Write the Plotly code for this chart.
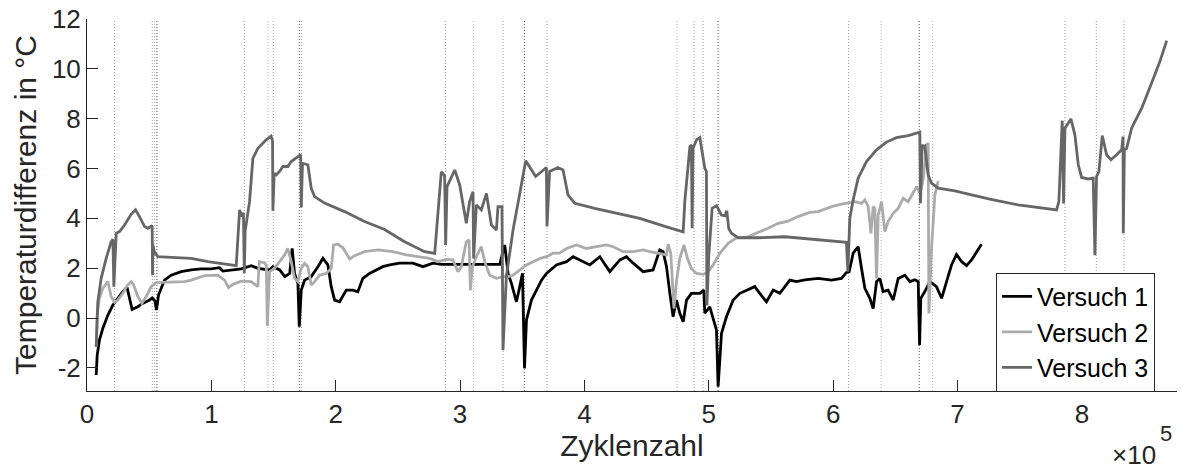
import plotly.graph_objects as go

# x values in units of 1e5 cycles
x1 = [0.074,0.082,0.10,0.127,0.168,0.208,0.248,0.288,0.322,0.342,0.363,0.382,0.409,0.435,0.476,0.503,0.524,0.545,0.559,0.575,0.597,0.623,0.677,0.757,0.838,0.918,0.999,1.066,1.093,1.16,1.24,1.321,1.374,1.468,1.495,1.55,1.59,1.63,1.65,1.669,1.696,1.707,1.723,1.75,1.803,1.857,1.897,1.937,1.964,1.991,2.031,2.085,2.138,2.178,2.218,2.272,2.326,2.379,2.434,2.514,2.621,2.702,2.782,2.85,3.0,3.15,3.319,3.359,3.386,3.413,3.453,3.48,3.502,3.518,3.534,3.574,3.614,3.655,3.695,3.775,3.856,3.909,3.963,4.043,4.124,4.204,4.285,4.338,4.392,4.472,4.552,4.606,4.633,4.66,4.687,4.713,4.74,4.767,4.794,4.821,4.861,4.928,4.96,4.968,5.008,5.035,5.062,5.075,5.102,5.142,5.196,5.25,5.303,5.37,5.41,5.464,5.518,5.571,5.652,5.705,5.772,5.88,5.987,6.067,6.107,6.129,6.161,6.201,6.228,6.255,6.295,6.322,6.349,6.375,6.402,6.442,6.483,6.523,6.576,6.617,6.657,6.684,6.695,6.705,6.737,6.778,6.831,6.872,6.912,6.952,6.992,7.033,7.073,7.113,7.193]
y1 = [-2.29,-1.49,-0.89,-0.42,0.12,0.52,0.79,1.06,1.23,0.79,0.34,0.39,0.45,0.55,0.65,0.72,0.81,0.7,0.32,0.92,1.19,1.52,1.72,1.86,1.93,1.97,1.97,2.02,1.88,1.91,1.97,2.1,1.99,1.93,2.06,1.93,1.66,1.79,2.79,1.79,1.39,-0.35,1.12,1.52,1.66,2.06,2.4,2.13,1.26,0.72,0.65,1.12,1.12,1.05,1.59,1.79,1.93,2.06,2.13,2.2,2.2,2.06,2.2,2.15,2.15,2.15,2.15,2.93,1.79,1.39,0.65,1.26,1.79,-2.02,-0.08,0.72,1.12,1.52,1.79,2.13,2.26,2.46,2.33,2.13,2.46,1.86,2.33,2.46,2.2,1.86,1.93,2.73,2.66,2.06,0.99,0.05,0.72,0.19,-0.15,0.72,0.99,0.99,1.12,0.19,0.45,-0.08,-0.49,-2.76,-0.62,0.05,0.72,0.99,1.12,1.26,0.99,0.65,1.12,0.99,1.52,1.46,1.53,1.59,1.52,1.59,1.83,1.86,2.6,2.86,2.0,1.19,0.79,0.38,1.46,1.59,1.06,1.12,0.72,1.59,1.72,1.46,1.53,1.46,-1.09,0.79,1.06,1.46,1.26,0.79,1.46,2.13,2.55,2.26,2.1,2.33,2.96]

x2 = [0.074,0.082,0.10,0.127,0.168,0.194,0.221,0.248,0.288,0.323,0.355,0.376,0.409,0.441,0.476,0.516,0.556,0.65,0.784,0.838,0.945,1.052,1.106,1.138,1.173,1.24,1.321,1.374,1.385,1.428,1.442,1.45,1.468,1.509,1.548,1.589,1.615,1.642,1.669,1.696,1.723,1.75,1.776,1.803,1.83,1.87,1.924,1.964,1.983,2.018,2.058,2.112,2.152,2.232,2.34,2.46,2.568,2.675,2.755,2.822,2.889,2.943,2.983,3.01,3.05,3.072,3.083,3.099,3.131,3.171,3.198,3.238,3.292,3.346,3.386,3.426,3.48,3.534,3.587,3.641,3.695,3.748,3.80,3.856,3.936,4.016,4.097,4.177,4.231,4.311,4.392,4.472,4.526,4.606,4.66,4.673,4.694,4.72,4.74,4.767,4.801,4.828,4.86,4.901,4.955,4.995,5.035,5.089,5.156,5.223,5.317,5.397,5.477,5.558,5.638,5.718,5.812,5.88,5.987,6.067,6.12,6.174,6.228,6.255,6.282,6.304,6.322,6.335,6.349,6.362,6.389,6.416,6.442,6.483,6.523,6.563,6.603,6.644,6.671,6.70,6.725,6.751,6.764,6.77,6.791,6.818,6.845]
y2 = [-1.16,0.12,0.79,1.19,1.46,0.86,0.63,0.72,0.99,1.3,1.46,1.32,0.86,0.59,0.86,1.26,1.42,1.43,1.46,1.52,1.7,1.72,1.52,1.22,1.35,1.48,1.46,1.26,2.26,2.22,2.1,-0.32,1.86,2.0,2.26,2.53,2.79,2.26,1.59,1.46,2.0,2.19,2.06,1.32,1.46,1.72,1.79,1.99,2.93,2.96,2.82,2.37,2.5,2.66,2.73,2.66,2.53,2.46,2.39,2.26,2.35,2.33,1.86,2.06,3.06,3.13,1.12,2.06,2.46,2.86,2.26,1.72,1.59,1.66,1.66,1.72,1.93,2.13,2.26,2.39,2.46,2.6,2.6,2.79,2.93,2.79,2.86,2.93,2.86,2.66,2.66,2.73,2.66,2.6,2.53,2.96,2.6,0.38,1.46,2.4,2.93,2.4,1.99,1.79,1.75,1.86,2.13,2.6,3.0,3.22,3.26,3.44,3.6,3.8,3.89,4.07,4.24,4.27,4.47,4.57,4.61,4.67,4.6,4.74,4.47,3.4,4.47,4.4,1.59,4.13,4.67,3.47,3.87,4.2,4.4,4.8,4.67,5.07,5.27,5.0,5.6,6.95,7.02,0.18,2.8,4.94,5.5]

x3 = [0.074,0.087,0.114,0.154,0.194,0.208,0.216,0.235,0.261,0.302,0.355,0.39,0.422,0.463,0.489,0.524,0.527,0.53,0.543,0.57,0.677,0.838,0.972,1.106,1.2,1.227,1.246,1.258,1.265,1.272,1.307,1.334,1.374,1.441,1.48,1.492,1.495,1.505,1.522,1.548,1.575,1.615,1.642,1.696,1.718,1.723,1.733,1.776,1.803,1.83,1.91,2.071,2.232,2.393,2.554,2.715,2.796,2.849,2.876,2.884,2.895,2.957,2.997,3.05,3.077,3.104,3.109,3.131,3.171,3.212,3.252,3.292,3.305,3.337,3.345,3.372,3.426,3.48,3.528,3.608,3.694,3.699,3.72,3.787,3.828,3.868,3.922,4.083,4.27,4.445,4.66,4.794,4.807,4.834,4.848,4.86,4.866,4.874,4.901,4.928,4.968,4.981,4.985,5.0,5.027,5.062,5.102,5.13,5.145,5.16,5.182,5.236,5.397,5.611,5.812,6.107,6.118,6.128,6.134,6.161,6.201,6.268,6.349,6.429,6.509,6.603,6.697,6.702,6.716,6.729,6.737,6.764,6.791,6.845,6.979,7.113,7.26,7.488,7.797,7.815,7.842,7.853,7.864,7.912,7.944,7.971,7.998,8.051,8.091,8.105,8.118,8.137,8.164,8.199,8.234,8.279,8.32,8.331,8.333,8.342,8.36,8.4,8.481,8.561,8.628,8.682]
y3 = [-1.16,0.65,1.59,2.39,3.06,3.16,1.26,3.4,3.47,3.73,4.16,4.34,4.07,3.67,3.6,3.71,1.72,2.93,2.63,2.46,2.43,2.39,2.26,2.15,2.1,4.34,4.07,4.22,1.8,3.5,4.67,6.41,6.81,7.15,7.3,7.1,4.3,5.8,5.74,5.88,6.08,6.08,6.28,6.48,6.55,4.44,6.21,6.15,5.21,4.87,4.61,4.27,3.87,3.55,3.06,2.66,2.59,5.87,5.7,2.93,5.27,5.94,5.34,3.8,4.67,5.07,2.39,4.54,4.34,5.0,3.73,3.53,4.47,4.47,-1.29,1.66,3.53,5.0,6.31,5.68,6.04,3.67,5.88,6.04,5.94,4.94,4.6,4.4,4.2,4.0,3.66,3.46,4.67,6.15,6.88,6.95,3.6,6.81,7.15,7.24,6.01,5.88,0.5,2.5,4.4,4.51,4.13,4.1,4.3,3.6,3.4,3.22,3.22,3.26,3.17,3.04,1.86,3.6,4.0,4.74,5.61,6.28,6.75,7.06,7.24,7.32,7.46,4.6,6.95,6.88,6.9,5.74,5.41,5.21,5.1,4.94,4.77,4.54,4.34,4.67,7.92,4.6,7.62,7.99,7.35,6.15,5.64,5.58,5.61,2.52,5.67,5.88,7.32,6.55,6.35,6.55,6.75,7.28,3.4,6.75,6.81,7.62,8.42,9.43,10.3,11.13]

for xs, ys in ((x1, y1), (x2, y2), (x3, y3)):
    assert len(xs) == len(ys), (len(xs), len(ys))

# event markers (vertical dotted lines), x in 1e5 cycles
events_v1 = [0.562, 1.707, 3.517, 5.075, 6.692]
events_v2 = [0.543, 1.455, 3.109, 4.745, 6.386, 6.800]
events_v3 = [0.221, 0.525, 1.265, 1.498, 1.723, 2.882, 3.345, 3.699, 4.882, 4.954, 6.124, 7.864, 8.116, 8.339]

series_names = ["Versuch 1", "Versuch 2", "Versuch 3"]
series_colors = ["#000000", "#ababab", "#666666"]
xtick_vals = [0, 1, 2, 3, 4, 5, 6, 7, 8]
xtick_text = ["0", "1", "2", "3", "4", "5", "6", "7", "8"]
ytick_vals = [-2, 0, 2, 4, 6, 8, 10, 12]
ytick_text = ["-2", "0", "2", "4", "6", "8", "10", "12"]

AX = "#262626"
FONT = "Liberation Sans, Arial, Helvetica, sans-serif"

fig = go.Figure()

for evs, col in ((events_v3, "#9c9c9c"), (events_v2, "#b4b4b4"), (events_v1, "#505050")):
    for ex in evs:
        fig.add_shape(type="line", xref="x", yref="paper", x0=ex, x1=ex, y0=0, y1=1,
                      line=dict(color=col, width=1, dash="1px,2px"), layer="below")

for xs, ys, name, col in zip((x1, x2, x3), (y1, y2, y3), series_names, series_colors):
    fig.add_trace(go.Scatter(x=xs, y=ys, mode="lines", name=name,
                             line=dict(color=col, width=2.8)))

fig.update_layout(
    width=1182, height=472,
    margin=dict(l=87, r=5, t=19, b=81),
    paper_bgcolor="white", plot_bgcolor="white",
    font=dict(family=FONT, color=AX, size=26),
    showlegend=True,
    legend=dict(x=0.834, y=0.318, xanchor="left", yanchor="top",
                bgcolor="white", bordercolor=AX, borderwidth=1,
                font=dict(size=25, color="#000000"), tracegroupgap=0,
                itemwidth=30),
    xaxis=dict(range=[0, 8.765], tickvals=xtick_vals, ticktext=xtick_text,
               ticks="inside", ticklen=11,
               tickwidth=1, tickcolor=AX, showline=True, linecolor=AX, linewidth=1,
               showgrid=False, zeroline=False,
               tickfont=dict(size=26, color=AX),
               title=dict(text="Zyklenzahl", font=dict(size=30, color=AX), standoff=4)),
    yaxis=dict(range=[-2.93, 12], tickvals=ytick_vals, ticktext=ytick_text,
               ticks="inside", ticklen=11,
               tickwidth=1, tickcolor=AX, showline=True, linecolor=AX, linewidth=1,
               showgrid=False, zeroline=False,
               tickfont=dict(size=26, color=AX),
               title=dict(text="Temperaturdifferenz in °C", font=dict(size=30, color=AX), standoff=6)),
    annotations=[
        dict(text="×10", xref="paper", yref="paper", x=0.9826, y=-0.172,
             xanchor="right", yanchor="middle", showarrow=False,
             font=dict(size=26, color=AX)),
        dict(text="5", xref="paper", yref="paper", x=0.9826, y=-0.115,
             xanchor="left", yanchor="middle", showarrow=False,
             font=dict(size=22, color=AX)),
    ],
)

fig.write_html("out.html")
